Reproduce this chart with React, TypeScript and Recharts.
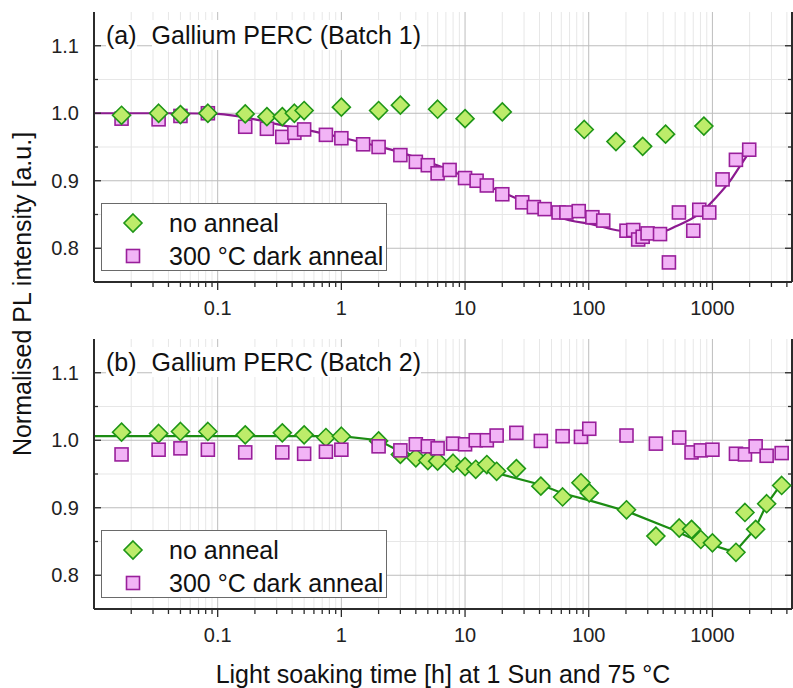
import React from 'react';
import { ComposedChart, Scatter, Line, XAxis, YAxis, CartesianGrid } from 'recharts';

// ---- data (hours of light soaking, normalised PL) ----
const batch1Times = [0.0167, 0.0333, 0.05, 0.0833, 0.167, 0.25, 0.333, 0.417, 0.5, 1, 2, 3, 6, 10, 20, 92, 166, 273, 418, 853];
const batch1NoAnneal = [0.997, 1.0, 0.998, 1.0, 0.999, 0.995, 0.995, 1.0, 1.004, 1.009, 1.004, 1.012, 1.006, 0.992, 1.002, 0.976, 0.958, 0.951, 0.969, 0.981];

const batch1AnnealTimes = [
  0.0167, 0.0333, 0.05, 0.0833, 0.167, 0.25, 0.333, 0.417, 0.5, 0.75,
  1, 1.5, 2, 3, 4, 5, 6, 7.5, 10, 12.4,
  15, 20, 29, 36, 44, 57, 66, 83, 107, 131,
  202, 229, 251, 273, 299, 377, 445, 536, 700, 783,
  943, 1208, 1549, 1984,
];
const batch1Anneal = [
  0.992, 0.991, 0.996, 1.0, 0.98, 0.977, 0.965, 0.971, 0.976, 0.968,
  0.963, 0.954, 0.95, 0.938, 0.928, 0.923, 0.911, 0.916, 0.904, 0.9,
  0.893, 0.88, 0.868, 0.861, 0.858, 0.853, 0.853, 0.855, 0.846, 0.841,
  0.826, 0.827, 0.813, 0.817, 0.822, 0.821, 0.779, 0.853, 0.826, 0.857,
  0.853, 0.902, 0.931, 0.946,
];
const batch1FitTimes = [0.01, 0.05, 0.1, 0.2, 0.3, 0.5, 1, 2, 3, 5, 7, 10, 15, 20, 30, 40, 58, 109, 200, 380, 513, 795, 1080, 1380, 1660, 2000];
const batch1Fit = [1.0, 1.0, 0.999, 0.991, 0.984, 0.976, 0.964, 0.951, 0.942, 0.928, 0.918, 0.906, 0.893, 0.883, 0.869, 0.861, 0.846, 0.835, 0.825, 0.824, 0.833, 0.852, 0.876, 0.899, 0.921, 0.943];

const batch2Times = [
  0.0167, 0.0333, 0.05, 0.0833, 0.167, 0.333, 0.5, 0.75, 1, 2,
  3, 4, 5, 6, 8, 10, 12.2, 15, 18, 26,
  41, 61.5, 86.5, 101, 202, 349, 539, 678, 806, 1000,
  1550, 1833, 2236, 2744, 3630,
];
const batch2NoAnneal = [
  1.012, 1.01, 1.013, 1.013, 1.008, 1.011, 1.008, 1.004, 1.006, 0.999,
  0.979, 0.974, 0.97, 0.969, 0.966, 0.961, 0.957, 0.964, 0.954, 0.958,
  0.932, 0.916, 0.937, 0.922, 0.897, 0.858, 0.87, 0.868, 0.853, 0.848,
  0.834, 0.893, 0.868, 0.906, 0.933,
];
const batch2Anneal = [
  0.979, 0.986, 0.988, 0.986, 0.982, 0.982, 0.98, 0.983, 0.986, 0.991,
  0.985, 0.994, 0.991, 0.988, 0.995, 0.994, 1.0, 1.0, 1.007, 1.011,
  0.999, 1.006, 1.005, 1.017, 1.007, 0.995, 1.004, 0.982, 0.985, 0.986,
  0.98, 0.979, 0.991, 0.977, 0.981,
];
const batch2FitTimes = [0.01, 1, 2, 3, 6, 10, 20, 41, 62, 101, 202, 470, 656, 955, 1300, 1545, 2200, 2744, 3500];
const batch2Fit = [1.006, 1.006, 1.0, 0.983, 0.969, 0.962, 0.949, 0.934, 0.921, 0.911, 0.895, 0.868, 0.856, 0.846, 0.838, 0.836, 0.868, 0.905, 0.932];

// ---- axes ----
const xMajor = [0.1, 1, 10, 100, 1000];
const xTickLabels = ['0.1', '1', '10', '100', '1000'];
const yMajor = [0.8, 0.9, 1.0, 1.1];
const yMinor = [0.85, 0.95, 1.05];
const X_DOMAIN: [number, number] = [0.01, 4400];
const Y_DOMAIN: [number, number] = [0.75, 1.15];

const xMinor: number[] = [];
[0.01, 0.1, 1, 10, 100, 1000].forEach((d) => {
  for (let m = 2; m <= 9; m++) {
    const v = Number((m * d).toPrecision(6));
    if (v <= X_DOMAIN[1]) xMinor.push(v);
  }
});
const xTicks = [...xMajor, ...xMinor].sort((a, b) => a - b);
const yTicks = [...yMajor, ...yMinor].sort((a, b) => a - b);

const zip = (ts: number[], vs: number[]) => ts.map((t, i) => ({ t, v: vs[i] }));

const FONT = '"Liberation Sans", Arial, Helvetica, sans-serif';
const GREEN_FILL = '#bdec6a';
const GREEN_EDGE = '#1f9617';
const PINK_FILL = '#f2b4f6';
const PURPLE_EDGE = '#991f9b';
const AXIS = '#2b2b2b';

const isIn = (v: number, list: number[]) => list.some((m) => Math.abs(v - m) <= Math.abs(m) * 1e-6);

const bottomTick = (props: any) => {
  const { x, y, payload } = props;
  const major = isIn(payload.value, xMajor);
  const idx = xMajor.findIndex((m) => Math.abs(m - payload.value) <= m * 1e-6);
  return (
    <g>
      <line x1={x} x2={x} y1={y} y2={y + (major ? 8 : 5)} stroke={AXIS} strokeWidth={1.3} />
      {major && (
        <text x={x} y={y + 26} textAnchor="middle" dominantBaseline="central" fontSize={20} fill="#222" fontFamily={FONT}>
          {xTickLabels[idx]}
        </text>
      )}
    </g>
  );
};

const topTick = (props: any) => {
  const { x, y, payload } = props;
  const major = isIn(payload.value, xMajor);
  return <line x1={x} x2={x} y1={y} y2={y + (major ? 8 : 5)} stroke={AXIS} strokeWidth={1.3} />;
};

const leftTick = (props: any) => {
  const { x, y, payload } = props;
  const major = isIn(payload.value, yMajor);
  return (
    <g>
      <line x1={x} x2={x + (major ? 7 : 4)} y1={y} y2={y} stroke={AXIS} strokeWidth={1.3} />
      {major && (
        <text x={x - 15} y={y} textAnchor="end" dominantBaseline="central" fontSize={20} fill="#222" fontFamily={FONT}>
          {payload.value.toFixed(1)}
        </text>
      )}
    </g>
  );
};

const rightTick = (props: any) => {
  const { x, y, payload } = props;
  const major = isIn(payload.value, yMajor);
  return <line x1={x} x2={x - (major ? 7 : 4)} y1={y} y2={y} stroke={AXIS} strokeWidth={1.3} />;
};

const Diamond = ({ cx, cy }: any) => (
  <polygon
    points={`${cx},${cy - 9} ${cx + 9},${cy} ${cx},${cy + 9} ${cx - 9},${cy}`}
    fill={GREEN_FILL}
    stroke={GREEN_EDGE}
    strokeWidth={1.6}
  />
);
const Square = ({ cx, cy }: any) => (
  <rect x={cx - 6.5} y={cy - 6.5} width={13} height={13} fill={PINK_FILL} stroke={PURPLE_EDGE} strokeWidth={1.6} />
);

const LegendBox = ({ top }: { top: number }) => (
  <div
    style={{
      position: 'absolute', left: 101, top, width: 286, height: 68, boxSizing: 'border-box',
      border: '1px solid #6a6a6a', background: '#fff', fontFamily: FONT, fontSize: 25, color: '#111',
    }}
  >
    <div style={{ position: 'absolute', left: 20, top: 8, height: 22, display: 'flex', alignItems: 'center' }}>
      <svg width={22} height={22}><Diamond cx={11} cy={11} /></svg>
      <span style={{ marginLeft: 25, whiteSpace: 'nowrap', lineHeight: '22px' }}>no anneal</span>
    </div>
    <div style={{ position: 'absolute', left: 20, top: 41, height: 22, display: 'flex', alignItems: 'center' }}>
      <svg width={22} height={22}><Square cx={11} cy={11} /></svg>
      <span style={{ marginLeft: 25, whiteSpace: 'nowrap', lineHeight: '22px' }}>300 °C dark anneal</span>
    </div>
  </div>
);

type PanelProps = {
  top: number;
  height: number;
  marginTop: number;
  axisHeight: number;
  tag: string;
  title: string;
  titleTop: number;
  legendTop: number;
  fit: { t: number; v: number }[];
  fitColor: string;
  fitType: 'monotone' | 'linear';
  order: ('square' | 'diamond')[];
  diamonds: { t: number; v: number }[];
  squares: { t: number; v: number }[];
};

const Panel = (p: PanelProps) => (
  <div style={{ position: 'absolute', left: 0, top: p.top, width: 793, height: p.height }}>
    <ComposedChart width={793} height={p.height} margin={{ top: p.marginTop, right: 0, bottom: 0, left: 0 }}>
      <CartesianGrid verticalValues={xMinor} horizontalValues={yMinor} stroke="#e7e7e7" strokeWidth={1} />
      <CartesianGrid verticalValues={xMajor} horizontalValues={yMajor} stroke="#bdbdbd" strokeWidth={1} />
      <XAxis
        dataKey="t" type="number" scale="log" domain={X_DOMAIN} allowDataOverflow
        ticks={xTicks} interval={0} tickSize={0} tickMargin={0} tickLine={false}
        tick={bottomTick} height={p.axisHeight} axisLine={{ stroke: AXIS, strokeWidth: 2 }}
      />
      <XAxis
        xAxisId="top" orientation="top" dataKey="t" type="number" scale="log" domain={X_DOMAIN} allowDataOverflow
        ticks={xTicks} interval={0} tickSize={0} tickMargin={0} tickLine={false}
        tick={topTick} height={0} axisLine={{ stroke: AXIS, strokeWidth: 2 }}
      />
      <YAxis
        type="number" domain={Y_DOMAIN} allowDataOverflow ticks={yTicks} interval={0}
        tickSize={0} tickMargin={0} tickLine={false} tick={leftTick} width={94}
        axisLine={{ stroke: AXIS, strokeWidth: 2 }}
      />
      <YAxis
        yAxisId="right" orientation="right" type="number" domain={Y_DOMAIN} allowDataOverflow ticks={yTicks} interval={0}
        tickSize={0} tickMargin={0} tickLine={false} tick={rightTick} width={1}
        axisLine={{ stroke: AXIS, strokeWidth: 2 }}
      />
      <Line data={p.fit} dataKey="v" type={p.fitType} stroke={p.fitColor} strokeWidth={2.2} dot={false} isAnimationActive={false} />
      {p.order.map((kind) =>
        kind === 'square' ? (
          <Scatter key="sq" data={p.squares} dataKey="v" shape={Square} isAnimationActive={false} />
        ) : (
          <Scatter key="di" data={p.diamonds} dataKey="v" shape={Diamond} isAnimationActive={false} />
        )
      )}
    </ComposedChart>
    <div
      style={{
        position: 'absolute', left: 106, top: p.titleTop, height: 30, lineHeight: '30px',
        fontFamily: FONT, fontSize: 25, color: '#111', whiteSpace: 'nowrap', display: 'flex',
      }}
    >
      <span style={{ background: '#fff' }}>{p.tag}</span>
      <span style={{ background: '#fff', marginLeft: 15 }}>{p.title}</span>
    </div>
    <LegendBox top={p.legendTop} />
  </div>
);

export default function App() {
  return (
    <div style={{ position: 'relative', width: 793, height: 688, background: '#fff', overflow: 'hidden' }}>
      <style>{'body{margin:0}'}</style>
      <Panel
        top={0} height={320} marginTop={12} axisHeight={38}
        tag="(a)" title="Gallium PERC (Batch 1)" titleTop={20} legendTop={203}
        fit={zip(batch1FitTimes, batch1Fit)} fitColor="#8c1a90" fitType="monotone"
        order={['square', 'diamond']}
        diamonds={zip(batch1Times, batch1NoAnneal)}
        squares={zip(batch1AnnealTimes, batch1Anneal)}
      />
      <Panel
        top={320} height={368} marginTop={19} axisHeight={79}
        tag="(b)" title="Gallium PERC (Batch 2)" titleTop={27} legendTop={210}
        fit={zip(batch2FitTimes, batch2Fit)} fitColor="#1c8c13" fitType="linear"
        order={['diamond', 'square']}
        diamonds={zip(batch2Times, batch2NoAnneal)}
        squares={zip(batch2Times, batch2Anneal)}
      />
      <div
        style={{
          position: 'absolute', left: 22, top: 294, transform: 'translate(-50%, -50%) rotate(-90deg)',
          fontFamily: FONT, fontSize: 25, lineHeight: '26px', color: '#111', whiteSpace: 'nowrap',
        }}
      >
        Normalised PL intensity [a.u.]
      </div>
      <div
        style={{
          position: 'absolute', left: 443, top: 674, transform: 'translate(-50%, -50%)',
          fontFamily: FONT, fontSize: 25, lineHeight: '25px', color: '#111', whiteSpace: 'nowrap',
        }}
      >
        Light soaking time [h] at 1 Sun and 75 °C
      </div>
    </div>
  );
}
